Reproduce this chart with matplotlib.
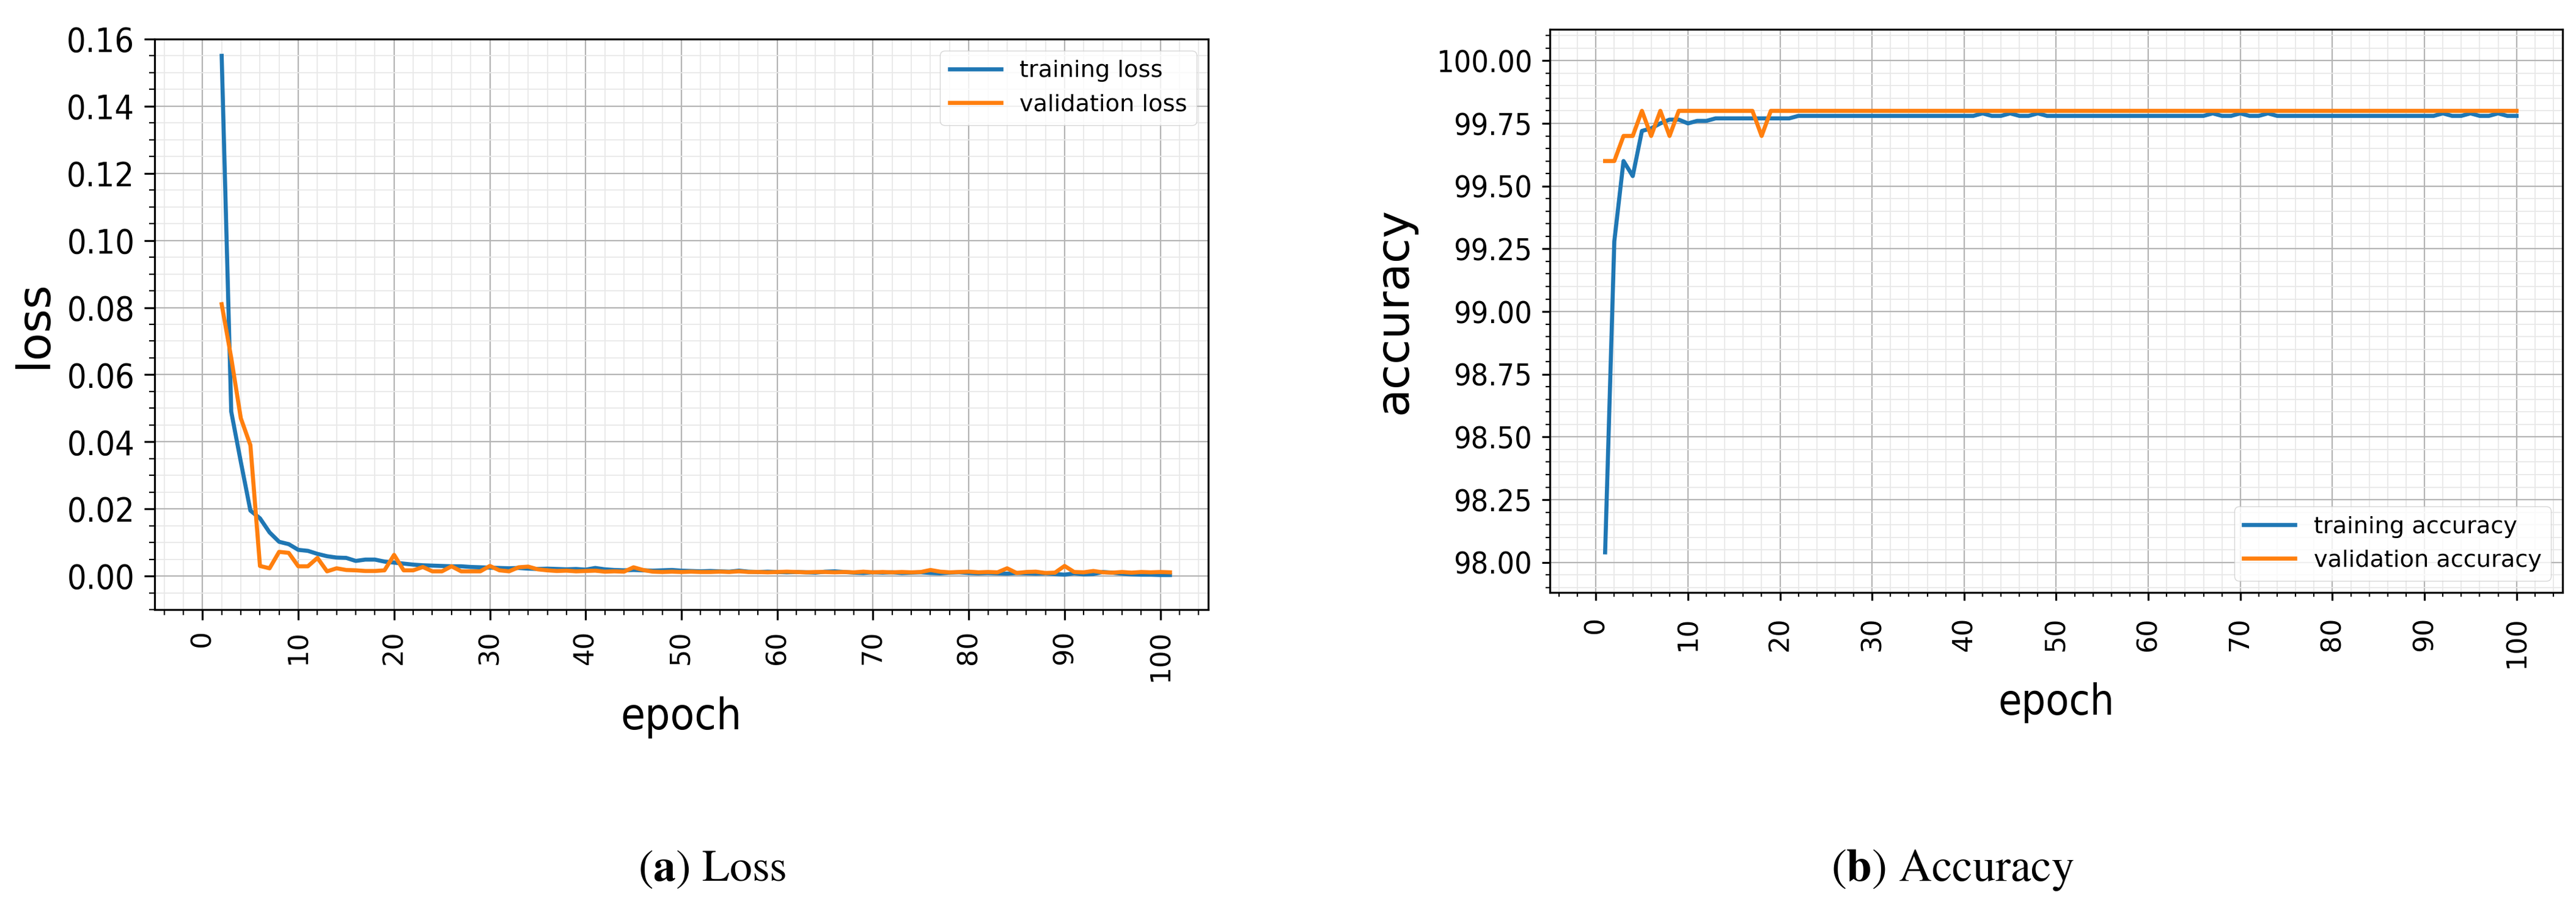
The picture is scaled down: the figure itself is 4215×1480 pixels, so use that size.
import matplotlib
matplotlib.use("Agg")
import matplotlib.pyplot as plt
from matplotlib.ticker import MultipleLocator, FormatStrFormatter

# loss curves, epochs 2..101
loss_epochs = list(range(2, 102))
train_loss = [0.155, 0.049, 0.034, 0.0195, 0.0172, 0.013, 0.0102, 0.0095, 0.0078, 0.0075,
              0.0066, 0.0059, 0.0055, 0.0054, 0.0045, 0.0049, 0.0049, 0.0043, 0.0040, 0.0037,
              0.0034, 0.0032, 0.0031, 0.0030, 0.0029, 0.0029, 0.0027, 0.0026, 0.0025, 0.0024,
              0.0023, 0.0024, 0.0022, 0.0021, 0.0022, 0.0021, 0.0020, 0.0021, 0.0019, 0.0024,
              0.0020, 0.0018, 0.0017, 0.0018, 0.0017, 0.0016, 0.0017, 0.0018, 0.0016, 0.0015,
              0.0014, 0.0015, 0.0014, 0.0013, 0.0016, 0.0013, 0.0012, 0.0013, 0.0012, 0.0011,
              0.0012, 0.0011, 0.0010, 0.0013, 0.0014, 0.0012, 0.0010, 0.0009, 0.0011, 0.0010,
              0.0011, 0.0009, 0.0010, 0.0011, 0.0009, 0.0008, 0.0010, 0.0011, 0.0009, 0.0008,
              0.0009, 0.0008, 0.0007, 0.0009, 0.0008, 0.0007, 0.0008, 0.0006, 0.0004, 0.0008,
              0.0005, 0.0006, 0.0012, 0.0010, 0.0007, 0.0005, 0.0004, 0.0004, 0.0003, 0.0003]
val_loss = [0.081, 0.065, 0.047, 0.039, 0.0030, 0.0023, 0.0072, 0.0069, 0.0029, 0.0029,
            0.0054, 0.0014, 0.0023, 0.0018, 0.0017, 0.0015, 0.0015, 0.0017, 0.0063, 0.0017,
            0.0017, 0.0027, 0.0014, 0.0014, 0.0029, 0.0014, 0.0014, 0.0014, 0.0030, 0.0017,
            0.0014, 0.0026, 0.0028, 0.0020, 0.0017, 0.0015, 0.0016, 0.0014, 0.0015, 0.0016,
            0.0013, 0.0014, 0.0013, 0.0026, 0.0018, 0.0013, 0.0012, 0.0013, 0.0012, 0.0013,
            0.0012, 0.0012, 0.0013, 0.0012, 0.0014, 0.0012, 0.0012, 0.0011, 0.0012, 0.0013,
            0.0012, 0.0011, 0.0012, 0.0012, 0.0011, 0.0012, 0.0011, 0.0013, 0.0011, 0.0012,
            0.0011, 0.0012, 0.0011, 0.0012, 0.0018, 0.0013, 0.0011, 0.0012, 0.0013, 0.0011,
            0.0012, 0.0011, 0.0023, 0.0009, 0.0012, 0.0013, 0.0009, 0.0010, 0.0030, 0.0012,
            0.0011, 0.0015, 0.0011, 0.0010, 0.0012, 0.0010, 0.0012, 0.0011, 0.0012, 0.0011]

# accuracy curves, epochs 1..100
acc_epochs = list(range(1, 101))
train_acc = [98.04, 99.28, 99.60, 99.54, 99.72, 99.73, 99.75, 99.765, 99.765, 99.75,
             99.76, 99.76, 99.77, 99.77, 99.77, 99.77, 99.77, 99.77, 99.77, 99.77,
             99.77, 99.78, 99.78, 99.78, 99.78, 99.78, 99.78, 99.78, 99.78, 99.78,
             99.78, 99.78, 99.78, 99.78, 99.78, 99.78, 99.78, 99.78, 99.78, 99.78,
             99.78, 99.79, 99.78, 99.78, 99.79, 99.78, 99.78, 99.79, 99.78, 99.78,
             99.78, 99.78, 99.78, 99.78, 99.78, 99.78, 99.78, 99.78, 99.78, 99.78,
             99.78, 99.78, 99.78, 99.78, 99.78, 99.78, 99.79, 99.78, 99.78, 99.79,
             99.78, 99.78, 99.79, 99.78, 99.78, 99.78, 99.78, 99.78, 99.78, 99.78,
             99.78, 99.78, 99.78, 99.78, 99.78, 99.78, 99.78, 99.78, 99.78, 99.78,
             99.78, 99.79, 99.78, 99.78, 99.79, 99.78, 99.78, 99.79, 99.78, 99.78]
val_acc = [99.6, 99.6, 99.7, 99.7, 99.8, 99.7, 99.8, 99.7, 99.8, 99.8,
           99.8, 99.8, 99.8, 99.8, 99.8, 99.8, 99.8, 99.7] + [99.8] * 82

BLUE = "#1f77b4"
ORANGE = "#ff7f0e"
LW = 4.8


def style_axes(ax, ymajor, yminor, ylim, ytick_size, tick_len, label_pad):
    ax.set_xlim(-5, 105)
    ax.set_ylim(*ylim)
    ax.xaxis.set_major_locator(MultipleLocator(10))
    ax.xaxis.set_minor_locator(MultipleLocator(2))
    ax.yaxis.set_major_locator(MultipleLocator(ymajor))
    ax.yaxis.set_minor_locator(MultipleLocator(yminor))
    ax.yaxis.set_major_formatter(FormatStrFormatter("%.2f"))
    ax.grid(which="major", color="#b4b4b4", linewidth=1.6)
    ax.grid(which="minor", color="#e8e8e8", linewidth=1.3)
    for s in ax.spines.values():
        s.set_linewidth(2.3)
    ax.tick_params(which="major", length=tick_len, width=2.3)
    ax.tick_params(which="minor", length=tick_len * 0.55, width=1.6)
    ax.tick_params(axis="y", which="major", pad=11.5)
    ax.tick_params(axis="x", which="major", pad=label_pad, labelsize=32, labelrotation=90)
    for lab in ax.get_yticklabels():
        lab.set_fontsize(ytick_size)
        lab.set_fontstretch("condensed")


fig = plt.figure(figsize=(42.15, 14.8), dpi=100)

# (a) loss
ax1 = fig.add_axes([0.06002, 0.32568, 0.40902, 0.63108])
ax1.plot(loss_epochs, train_loss, color=BLUE, lw=LW, label="training loss")
ax1.plot(loss_epochs, val_loss, color=ORANGE, lw=LW, label="validation loss")
style_axes(ax1, 0.02, 0.005, (-0.01, 0.16), 40, 12, 12)
ax1.set_ylabel("loss", fontsize=54)
ax1.yaxis.set_label_coords(-0.0934, 0.5)
ax1.set_xlabel("epoch", fontsize=52, fontstretch="condensed")
ax1.xaxis.set_label_coords(0.5, -0.152)
ax1.legend(loc="upper right", fontsize=27.5, handlelength=2.2)

# (b) accuracy
ax2 = fig.add_axes([0.60166, 0.34459, 0.39312, 0.62297])
ax2.plot(acc_epochs, train_acc, color=BLUE, lw=LW, label="training accuracy")
ax2.plot(acc_epochs, val_acc, color=ORANGE, lw=LW, label="validation accuracy")
style_axes(ax2, 0.25, 0.05, (97.88, 100.125), 36, 9.4, 19)
ax2.set_ylabel("accuracy", fontsize=54)
ax2.yaxis.set_label_coords(-0.1316, 0.5)
ax2.set_xlabel("epoch", fontsize=50, fontstretch="condensed")
ax2.xaxis.set_label_coords(0.5, -0.159)
ax2.legend(loc="lower right", fontsize=27.5, handlelength=2.2)

# captions
plt.rcParams["mathtext.fontset"] = "stix"
fig.text(1165 / 4215, 1 - 1442 / 1480, r"($\mathbf{a}$) Loss", family="STIXGeneral",
         fontsize=53, ha="center", va="baseline")
fig.text(3195 / 4215, 1 - 1442 / 1480, r"($\mathbf{b}$) Accuracy", family="STIXGeneral",
         fontsize=54, ha="center", va="baseline")

fig.savefig("out.png", dpi=100)
